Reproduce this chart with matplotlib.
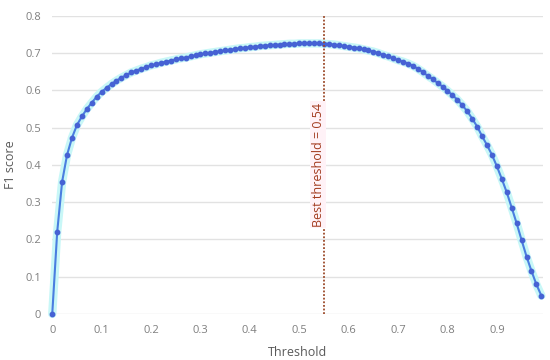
import matplotlib
matplotlib.use("Agg")
import matplotlib.pyplot as plt
import numpy as np

thresholds = [round(i * 0.01, 2) for i in range(100)]
f1_scores = [
    0.000, 0.220, 0.355, 0.427, 0.473, 0.507, 0.530, 0.550, 0.567, 0.583,
    0.596, 0.607, 0.617, 0.626, 0.634, 0.641, 0.648, 0.653, 0.658, 0.662,
    0.667, 0.670, 0.674, 0.677, 0.680, 0.683, 0.686, 0.688, 0.691, 0.694,
    0.697, 0.699, 0.701, 0.703, 0.705, 0.707, 0.709, 0.711, 0.713, 0.714,
    0.716, 0.717, 0.719, 0.720, 0.721, 0.722, 0.723, 0.724, 0.725, 0.725,
    0.726, 0.726, 0.726, 0.726, 0.726, 0.725, 0.724, 0.723, 0.721, 0.719,
    0.717, 0.715, 0.713, 0.710, 0.707, 0.704, 0.700, 0.695, 0.691, 0.686,
    0.681, 0.677, 0.672, 0.666, 0.658, 0.649, 0.639, 0.630, 0.620, 0.610,
    0.599, 0.587, 0.575, 0.560, 0.544, 0.524, 0.503, 0.477, 0.453, 0.427,
    0.396, 0.362, 0.326, 0.285, 0.243, 0.198, 0.154, 0.115, 0.079, 0.049,
]
best_x = 0.55
best_label = "Best threshold = 0.54"
x_ticks = [0, 0.1, 0.2, 0.3, 0.4, 0.5, 0.6, 0.7, 0.8, 0.9]
x_tick_labels = ["0", "0.1", "0.2", "0.3", "0.4", "0.5", "0.6", "0.7", "0.8", "0.9"]
y_ticks = [0, 0.1, 0.2, 0.3, 0.4, 0.5, 0.6, 0.7, 0.8]
y_tick_labels = ["0", "0.1", "0.2", "0.3", "0.4", "0.5", "0.6", "0.7", "0.8"]

plt.rcParams['font.family'] = ['Open Sans', 'DejaVu Sans']

fig = plt.figure(figsize=(5.5, 3.6), dpi=100)
ax = fig.add_axes([0.095, 0.128, 0.892, 0.828])

ax.plot(thresholds, f1_scores, color='#c8f7f7', linewidth=6, solid_capstyle='round', zorder=2, clip_on=False)
ax.plot(thresholds, f1_scores, color='#4a7ee0', linewidth=1.5, marker='o', markersize=3.2,
        markerfacecolor='#4662d4', markeredgecolor='#4662d4', zorder=3, clip_on=False)

ax.axvline(best_x, color='#9c4a2a', linestyle=(0, (1, 1)), linewidth=1.3, zorder=4)
ax.text(best_x - 0.012, 0.40, best_label, rotation=90, ha='center', va='center',
        color='#a23a1e', fontsize=9,
        bbox=dict(facecolor='#fff2f7', edgecolor='none', pad=1.0), zorder=5)

ax.set_xlim(0, 0.993)
ax.set_ylim(0, 0.8)
ax.set_xticks(x_ticks)
ax.set_xticklabels(x_tick_labels)
ax.set_yticks(y_ticks)
ax.set_yticklabels(y_tick_labels)
ax.tick_params(axis='both', length=0, labelsize=8, labelcolor='#7f7f7f', pad=8)
ax.grid(axis='y', color='#e2e2e2', linewidth=1)
ax.set_axisbelow(True)
for s in ax.spines.values():
    s.set_visible(False)

ax.set_xlabel("Threshold", fontsize=9, color='#595959', va='center')
ax.set_ylabel("F1 score", fontsize=9, color='#595959', va='center')
ax.xaxis.set_label_coords(0.5, -0.128)
ax.yaxis.set_label_coords(-0.085, 0.5)

fig.savefig("out.png", dpi=100)
